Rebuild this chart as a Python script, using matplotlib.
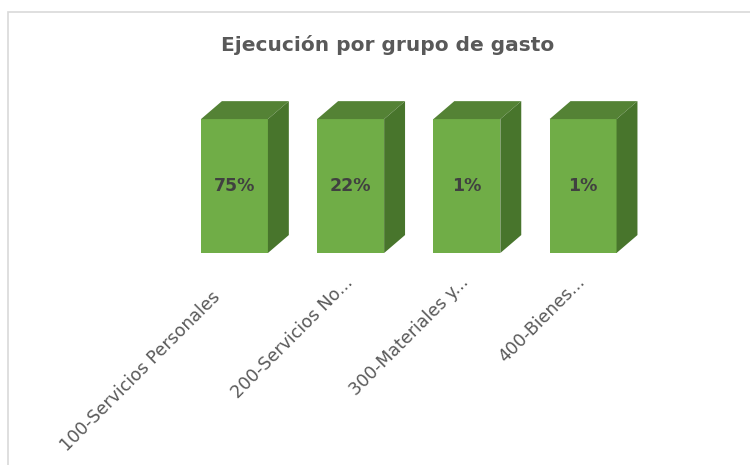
import matplotlib.pyplot as plt
from matplotlib.patches import Polygon, Rectangle

# data
categories = ['100-Servicios Personales', '200-Servicios No...',
              '300-Materiales y...', '400-Bienes...']
shares = [75, 22, 1, 1]            # share of spending shown as labels
bar_heights = [100, 100, 100, 100]  # all columns drawn at full height
title = 'Ejecución por grupo de gasto'

front_color = '#70AD47'
top_color = '#548235'
side_color = '#48752C'
text_gray = '#595959'

fig = plt.figure(figsize=(7.5, 4.65), dpi=100)
fig.patch.set_facecolor('white')

# light chart border (top and left edges visible)
fig.add_artist(Rectangle((8 / 750, -0.1), 1.0, (465 - 12.5) / 465 + 0.1,
                         transform=fig.transFigure, fill=False,
                         edgecolor='#D9D9D9', linewidth=1.2))

ax = fig.add_axes([176.35 / 750, 212 / 465, 476.45 / 750, 154 / 465])
ax.set_xlim(-0.5, 3.6)
ax.set_ylim(0, 115)
ax.axis('off')

width = 0.576
dx, dy = 0.18, 13.4  # depth of the 3d effect

x = list(range(len(categories)))
ax.bar(x, bar_heights, width=width, color=front_color, zorder=3)

for xi, h, s in zip(x, bar_heights, shares):
    l, r = xi - width / 2, xi + width / 2
    ax.add_patch(Polygon([(l, h), (r, h), (r + dx, h + dy), (l + dx, h + dy)],
                         closed=True, facecolor=top_color, edgecolor='none', zorder=3))
    ax.add_patch(Polygon([(r, 0), (r + dx, dy), (r + dx, h + dy), (r, h)],
                         closed=True, facecolor=side_color, edgecolor='none', zorder=3))
    ax.text(xi, h / 2, f'{s}%', ha='center', va='center', fontsize=12.5,
            fontweight='bold', color='#404040', zorder=5)

offsets = [(-23, -35), (-7, -20), (-7, -20), (-7, -20)]
for xi, lab, off in zip(x, categories, offsets):
    ax.annotate(lab, xy=(xi, 0), xycoords=('data', 'axes fraction'),
                xytext=off, textcoords='offset pixels', rotation=45,
                ha='right', va='top', rotation_mode='anchor',
                fontsize=12.5, color=text_gray, annotation_clip=False)

fig.text(388 / 750, 1 - 45 / 465, title, ha='center', va='center',
         fontsize=14.5, fontweight='bold', color=text_gray)

fig.savefig('out.png', dpi=100)
